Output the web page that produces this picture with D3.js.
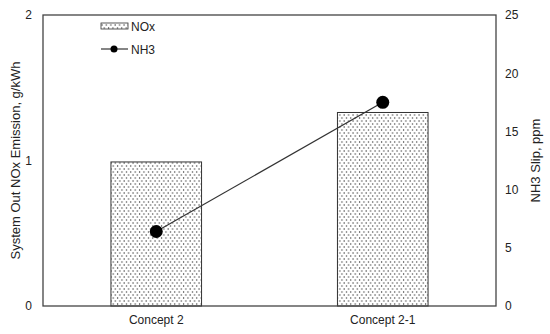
<!DOCTYPE html>
<html>
<head>
<meta charset="utf-8">
<script src="https://cdn.jsdelivr.net/npm/d3@7"></script>
<style>
  body { margin: 0; background: #fff; }
  text { font-family: "Liberation Sans", Arial, sans-serif; fill: #222; }
</style>
</head>
<body>
<div id="chart"></div>
<script>
// chart values
const categories = ['Concept 2', 'Concept 2-1'];
const noxValues = [0.99, 1.33];
const nh3Values = [6.4, 17.5];
const leftTicks = [0, 1, 2];
const rightTicks = [0, 5, 10, 15, 20, 25];

const W = 550, H = 334;
const margin = {top: 15, right: 54, bottom: 28, left: 43};

const svg = d3.select('#chart').append('svg')
  .attr('width', W)
  .attr('height', H);

// dotted fill like the excel "5%" pattern
const defs = svg.append('defs');
const pat = defs.append('pattern')
  .attr('id', 'dots')
  .attr('patternUnits', 'userSpaceOnUse')
  .attr('width', 4.4)
  .attr('height', 6);
pat.append('rect').attr('width', 4.4).attr('height', 6).attr('fill', '#fff');
pat.append('circle').attr('cx', 1).attr('cy', 1).attr('r', 0.65).attr('fill', '#333');
pat.append('circle').attr('cx', 3.2).attr('cy', 4).attr('r', 0.65).attr('fill', '#333');

const x = d3.scaleBand()
  .domain(categories)
  .range([margin.left, W - margin.right])
  .paddingInner(0.6)
  .paddingOuter(0.3);

const yL = d3.scaleLinear().domain([0, 2]).range([H - margin.bottom, margin.top]);
const yR = d3.scaleLinear().domain([0, 25]).range([H - margin.bottom, margin.top]);

// bars
svg.selectAll('.bar')
  .data(categories)
  .enter().append('rect')
  .attr('class', 'bar')
  .attr('x', d => x(d))
  .attr('width', x.bandwidth())
  .attr('y', (d, i) => yL(noxValues[i]))
  .attr('height', (d, i) => yL(0) - yL(noxValues[i]))
  .attr('fill', 'url(#dots)')
  .attr('stroke', '#333')
  .attr('stroke-width', 1);

// plot frame
svg.append('rect')
  .attr('x', margin.left)
  .attr('y', margin.top)
  .attr('width', W - margin.left - margin.right)
  .attr('height', H - margin.top - margin.bottom)
  .attr('fill', 'none')
  .attr('stroke', '#444')
  .attr('stroke-width', 1.3);

// axes
const axL = svg.append('g')
  .attr('transform', `translate(${margin.left},0)`)
  .call(d3.axisLeft(yL).tickValues(leftTicks).tickSize(0).tickPadding(11).tickFormat(d3.format('d')));
const axR = svg.append('g')
  .attr('transform', `translate(${W - margin.right},0)`)
  .call(d3.axisRight(yR).tickValues(rightTicks).tickSize(0).tickPadding(9).tickFormat(d3.format('d')));
const axB = svg.append('g')
  .attr('transform', `translate(0,${H - margin.bottom})`)
  .call(d3.axisBottom(x).tickSize(0).tickPadding(9));

[axL, axR, axB].forEach(a => {
  a.select('.domain').remove();
  a.selectAll('text').style('font-size', '12px').style('font-family', '"Liberation Sans", Arial, sans-serif').attr('fill', '#222');
});

// NH3 line
const line = d3.line()
  .x((d, i) => x(categories[i]) + x.bandwidth() / 2)
  .y(d => yR(d));

svg.append('path')
  .datum(nh3Values)
  .attr('d', line)
  .attr('fill', 'none')
  .attr('stroke', '#333')
  .attr('stroke-width', 1.2);

svg.selectAll('.pt')
  .data(nh3Values)
  .enter().append('circle')
  .attr('class', 'pt')
  .attr('cx', (d, i) => x(categories[i]) + x.bandwidth() / 2)
  .attr('cy', d => yR(d))
  .attr('r', 6.5)
  .attr('fill', '#000');

// axis titles
svg.append('text')
  .attr('transform', `translate(20,${(margin.top + H - margin.bottom) / 2}) rotate(-90)`)
  .attr('text-anchor', 'middle')
  .style('font-size', '13px')
  .text('System Out NOx Emission, g/kWh');

svg.append('text')
  .attr('transform', `translate(540,${(margin.top + H - margin.bottom) / 2}) rotate(-90)`)
  .attr('text-anchor', 'middle')
  .style('font-size', '13px')
  .text('NH3 Slip, ppm');

// legend
const leg = svg.append('g').attr('transform', 'translate(101,0)');
leg.append('rect')
  .attr('x', 0).attr('y', 23).attr('width', 27).attr('height', 6)
  .attr('fill', 'url(#dots)').attr('stroke', '#333').attr('stroke-width', 0.8);
leg.append('text').attr('x', 30).attr('y', 30.5).style('font-size', '12px').text('NOx');
leg.append('line')
  .attr('x1', 0).attr('x2', 27).attr('y1', 49).attr('y2', 49)
  .attr('stroke', '#333').attr('stroke-width', 1.2);
leg.append('circle').attr('cx', 13).attr('cy', 49).attr('r', 3.5).attr('fill', '#000');
leg.append('text').attr('x', 30).attr('y', 53.5).style('font-size', '12px').text('NH3');
</script>
</body>
</html>
